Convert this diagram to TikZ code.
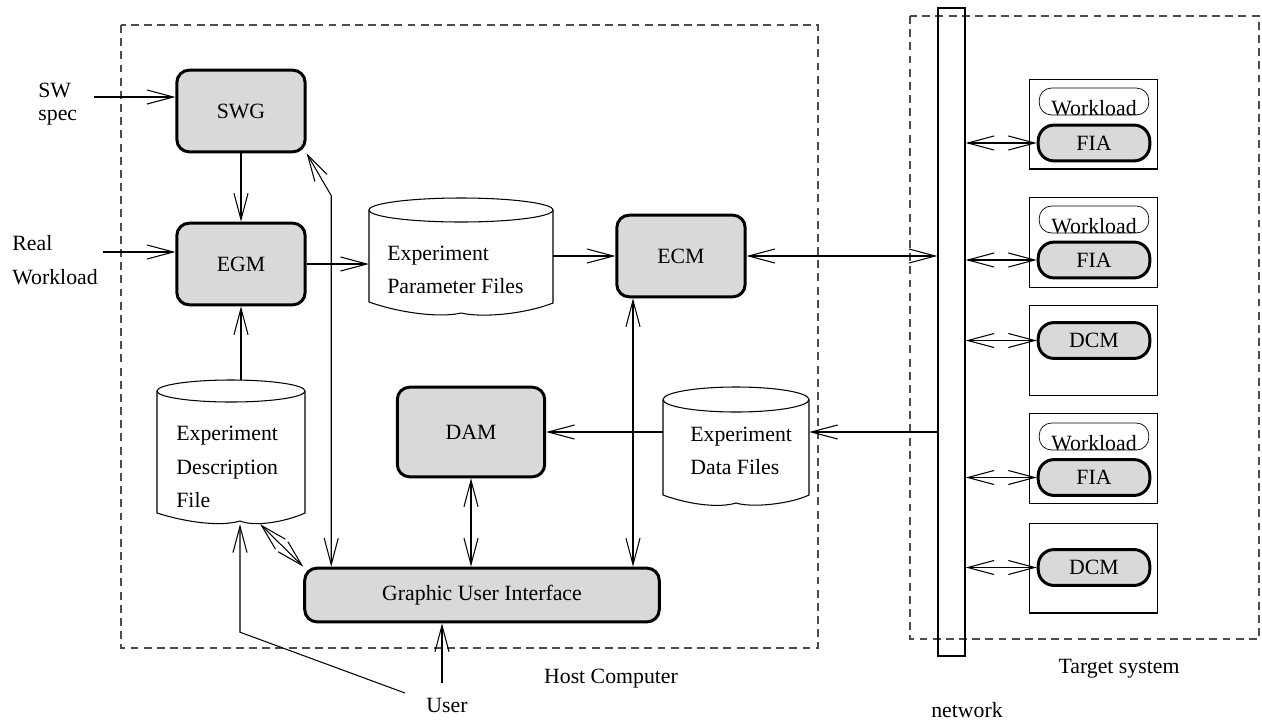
\documentclass[tikz,border=0pt]{standalone}
\usepackage{fontspec}
\setmainfont{Liberation Serif}
\usetikzlibrary{arrows.meta,calc}

\begin{document}
\begin{tikzpicture}[x=0.02cm,y=-0.02cm,
  font=\fontsize{12.4}{19}\selectfont,
  >={Straight Barb[length=15pt,width=8pt]},
  line width=0.6pt,
  module/.style={draw,line width=1.7pt,rounded corners=7pt,fill=black!15,minimum width=73pt,minimum height=46.5pt,inner sep=0pt},
  tmodule/.style={draw,line width=1.7pt,rounded corners=9pt,fill=black!15,minimum width=63.5pt,minimum height=20.4pt,inner sep=0pt},
  wlbox/.style={draw,line width=0.4pt,rounded corners=7pt,minimum width=62.4pt,minimum height=15.3pt,inner sep=0pt},
  tbox/.style={draw,line width=0.8pt,minimum width=73.1pt,minimum height=51pt,inner sep=0pt},
  store/.style={minimum width=#1,inner sep=0pt},
  area/.style={draw=black!70,line width=0.6pt,dash pattern=on 4.5pt off 3pt}]
\useasboundingbox (0,0) rectangle (1262,721);

\draw[area] (121,25) rectangle (818,648);
\draw[area] (910,16) rectangle (1259,639);
\node (hostlbl) at (611,679) {Host Computer};
\node (targetlbl) at (1119,669) {Target system};
\node[inner sep=1pt] (netlbl) at (967,710) {network};

\node[draw,line width=0.9pt,minimum width=15.3pt,minimum height=368.5pt,inner sep=0pt] (net) at (951.5,332) {};

\node[module] (swg) at (241,111) {SWG};
\node[module] (egm) at (241,264) {EGM};
\node[module] (ecm) at (681,256) {ECM};
\node[module,minimum width=83.9pt,minimum height=51pt] (dam) at (471,432) {DAM};
\node[module,minimum width=201.8pt,minimum height=30.6pt] (gui) at (482,595) {Graphic User Interface};

\node[anchor=west,align=left] (swspec) at (32,104) {SW\\[-6pt]spec};
\node[anchor=west,align=left] (realwl) at (6,260) {Real\\Workload};
\coordinate (swin) at (94,97);
\coordinate (realin) at (103,252);

\draw (461,210) ellipse [x radius=92,y radius=12];
\draw (369,210) -- (369,302) .. controls (400,313) and (440,318) .. (461,313) .. controls (482,318) and (525,314) .. (553,303) -- (553,210);
\node[store=104.3pt,minimum height=66.3pt] (param) at (461,256.5) {};
\node[anchor=west,align=left] (paramtxt) at (381,270) {Experiment\\Parameter Files};

\draw (231,391) ellipse [x radius=74,y radius=11];
\draw (157,391) -- (157,513) .. controls (185,522) and (220,527) .. (240,521) .. controls (255,527) and (285,522) .. (305,513) -- (305,391);
\node[store=83.9pt,minimum height=81.6pt] (desc) at (231,452) {};
\node[anchor=west,align=left] (desctxt) at (170,467) {Experiment\\Description\\File};

\draw (736,399.5) ellipse [x radius=73,y radius=12.5];
\draw (663,399.5) -- (663,495) .. controls (690,505) and (720,508) .. (736,503) .. controls (752,508) and (790,504) .. (809,495) -- (809,399.5);
\node[store=82.8pt,minimum height=66.9pt] (data) at (736,446) {};
\node[anchor=west,align=left] (datatxt) at (684,451) {Experiment\\Data Files};

\node[tbox] (tb1) at (1093.5,124) {};
\node[wlbox] (wl1) at (1094,101.5) {};
\node[anchor=base] (wl1t) at (wl1.south) {Workload};
\node[tmodule] (fia1) at (1094,143) {FIA};

\node[tbox] (tb2) at (1093.5,242.5) {};
\node[wlbox] (wl2) at (1094,219.5) {};
\node[anchor=base] (wl2t) at (wl2.south) {Workload};
\node[tmodule] (fia2) at (1094,260) {FIA};

\node[tbox] (tb3) at (1093.5,350.5) {};
\node[tmodule] (dcm1) at (1094,340.5) {DCM};

\node[tbox] (tb4) at (1093.5,458.5) {};
\node[wlbox] (wl4) at (1094,436.5) {};
\node[anchor=base] (wl4t) at (wl4.south) {Workload};
\node[tmodule] (fia3) at (1094,477.5) {FIA};

\node[tbox] (tb5) at (1093.5,568) {};
\node[tmodule] (dcm2) at (1094,567.5) {DCM};

\foreach \t in {fia1,fia2,dcm1,fia3,dcm2}
  \draw[<->] (\t.west -| net.east) -- (\t.west);

\node (user) at (447,705) {User};
\coordinate (userup) at (442,683);
\coordinate (userleft) at (405,693);

\draw[->] (swin) -- (swin -| swg.west);
\draw[->] (realin) -- (realin -| egm.west);
\draw[->] (swg) -- (egm);
\draw[->] (egm.east) -- (egm.east -| param.west);
\draw[->] (param.east |- ecm.west) -- (ecm.west);
\draw[<->] (ecm.east) -- (ecm.east -| net.west);
\draw[->] (egm.south |- desc.north) -- (egm.south);
\draw[->] (dam.east -| net.west) -- (dam.east -| data.east);
\draw[->] (dam.east -| data.west) -- (dam.east);
\coordinate (ecmdown) at ($(ecm.south)+(-48,0)$);
\draw[<->] (ecmdown) -- (ecmdown |- gui.north);
\draw[<->] (dam.south) -- (dam.south |- gui.north);
\coordinate (guiup) at ($(gui.north west)+(28,0)$);
\draw[<->] (guiup) -- ($(guiup)+(0,-371)$) -- (swg.south east);
\draw[<->] (desc.-68) -- (gui.north west);
\draw[->] (userup) -- (userup |- gui.south);
\draw[->] (userleft) -- ($(desc.south)+(9,108)$) -- ($(desc.south)+(9,0)$);
\end{tikzpicture}
\end{document}
